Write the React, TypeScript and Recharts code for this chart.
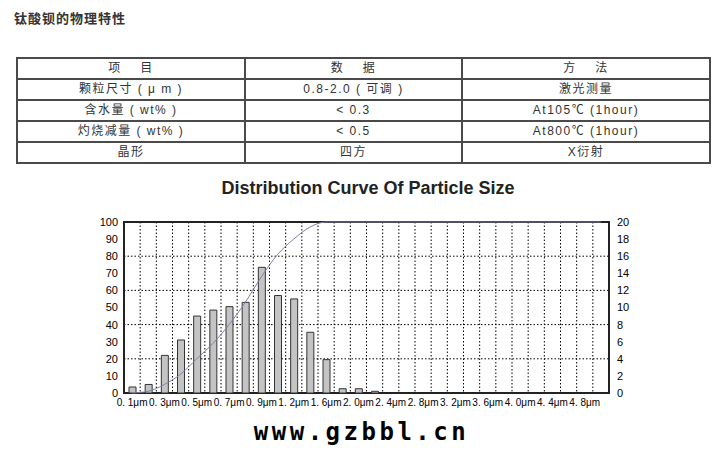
import {
  ComposedChart,
  Bar,
  Line,
  XAxis,
  YAxis,
  CartesianGrid,
  ReferenceArea,
} from 'recharts';

// particle size classes (every other one is labelled on the axis)
const sizeLabels = [
  '0. 1μm', '0. 2μm', '0. 3μm', '0. 4μm', '0. 5μm', '0. 6μm', '0. 7μm', '0. 8μm', '0. 9μm', '1. 0μm',
  '1. 2μm', '1. 4μm', '1. 6μm', '1. 8μm', '2. 0μm', '2. 2μm', '2. 4μm', '2. 6μm', '2. 8μm', '3. 0μm',
  '3. 2μm', '3. 4μm', '3. 6μm', '3. 8μm', '4. 0μm', '4. 2μm', '4. 4μm', '4. 6μm', '4. 8μm', '5. 0μm',
];

// frequency % per class (right axis, 0-20)
const frequency = [
  0.7, 1.0, 4.4, 6.2, 9.0, 9.7, 10.1, 10.6, 14.7, 11.4,
  11.0, 7.1, 3.9, 0.5, 0.5, 0.2, null, null, null, null,
  null, null, null, null, null, null, null, null, null, null,
];

// cumulative % (left axis, 0-100)
const cumulative = [
  0, 1, 5, 11, 20, 29, 40, 53, 68, 81,
  90, 97, 100, 100, 100, 100, 100, 100, 100, 100,
  100, 100, 100, 100, 100, 100, 100, 100, 100, 100,
];

const leftTicks = [0, 10, 20, 30, 40, 50, 60, 70, 80, 90, 100];
const rightTicks = [0, 2, 4, 6, 8, 10, 12, 14, 16, 18, 20];

const tableRows = [
  ['项　 目', '数　 据', '方　 法'],
  ['颗粒尺寸 ( μ m )', '0.8-2.0 ( 可调 )', '激光测量'],
  ['含水量 ( wt% )', '< 0.3', 'At105℃ (1hour)'],
  ['灼烧减量 ( wt% )', '< 0.5', 'At800℃ (1hour)'],
  ['晶形', '四方', 'X衍射'],
];

const chartData = sizeLabels.map((size, i) => ({
  size,
  freq: frequency[i],
  cum: cumulative[i],
}));

const cjk = "'Noto Sans CJK SC', sans-serif";
const tickFont = { fill: '#000', fontSize: 11, fontFamily: "'Liberation Sans', Arial, sans-serif" };

export default function App() {
  return (
    <div style={{ position: 'absolute', left: 0, top: 0, width: 723, height: 455, background: '#fff' }}>
      <div
        style={{
          position: 'absolute',
          left: 14,
          top: 10,
          fontFamily: cjk,
          fontSize: 13,
          fontWeight: 700,
          letterSpacing: 1,
          color: '#333',
          lineHeight: '16px',
        }}
      >
        钛酸钡的物理特性
      </div>

      {/* property table */}
      <table
        style={{
          position: 'absolute',
          left: 16,
          top: 57,
          width: 693,
          borderCollapse: 'collapse',
          tableLayout: 'fixed',
          fontFamily: "'Liberation Sans', 'Noto Sans CJK SC', sans-serif",
          fontSize: 12,
          color: '#333',
          letterSpacing: 1.5,
        }}
      >
        <colgroup>
          <col style={{ width: 228 }} />
          <col style={{ width: 217 }} />
          <col style={{ width: 248 }} />
        </colgroup>
        <tbody>
          {tableRows.map((row, r) => (
            <tr key={r}>
              {row.map((cell, c) => (
                <td
                  key={c}
                  style={{
                    border: '2px solid #4a4a4a',
                    height: 19,
                    padding: 0,
                    textAlign: 'center',
                    lineHeight: '19px',
                    whiteSpace: 'pre',
                  }}
                >
                  {cell}
                </td>
              ))}
            </tr>
          ))}
        </tbody>
      </table>

      <div
        style={{
          position: 'absolute',
          left: 0,
          width: 736,
          top: 177,
          textAlign: 'center',
          fontFamily: "'Liberation Sans', Arial, sans-serif",
          fontWeight: 700,
          fontSize: 18,
          color: '#222',
          lineHeight: '22px',
        }}
      >
        Distribution Curve Of Particle Size
      </div>

      <div style={{ position: 'absolute', left: 0, top: 200 }}>
        <ComposedChart
          width={723}
          height={220}
          data={chartData}
          margin={{ top: 22, right: 74, left: 84, bottom: 7 }}
          barCategoryGap={0}
        >
          <CartesianGrid
            yAxisId="left"
            stroke="#000"
            strokeDasharray="1.5 2"
            verticalCoordinatesGenerator={({ offset }: any) =>
              sizeLabels.slice(1).map((_, i) => offset.left + ((i + 1) * offset.width) / sizeLabels.length)
            }
          />
          <XAxis
            dataKey="size"
            interval={1}
            axisLine={false}
            tickLine={false}
            tickSize={4}
            tickMargin={2}
            height={20}
            tick={{ ...tickFont, fontSize: 10 }}
          />
          <YAxis
            yAxisId="left"
            domain={[0, 100]}
            ticks={leftTicks}
            axisLine={false}
            tickLine={false}
            tickSize={4}
            tickMargin={2}
            width={40}
            tick={tickFont}
          />
          <YAxis
            yAxisId="right"
            orientation="right"
            domain={[0, 20]}
            ticks={rightTicks}
            axisLine={false}
            tickLine={false}
            tickSize={6}
            tickMargin={2}
            width={40}
            tick={tickFont}
          />
          <ReferenceArea yAxisId="left" y1={0} y2={100} fill="none" stroke="#222" strokeWidth={2} />
          <Bar
            yAxisId="right"
            dataKey="freq"
            barSize={7}
            fill="#c4c4c4"
            stroke="#333"
            strokeWidth={1}
            isAnimationActive={false}
          />
          <Line
            yAxisId="left"
            type="monotone"
            dataKey="cum"
            stroke="#8080aa"
            strokeWidth={1}
            dot={false}
            activeDot={false}
            isAnimationActive={false}
          />
        </ComposedChart>
      </div>

      <div
        style={{
          position: 'absolute',
          left: 0,
          width: 723,
          top: 418,
          textAlign: 'center',
          fontFamily: "'DejaVu Sans Mono', monospace",
          fontWeight: 700,
          fontSize: 24,
          letterSpacing: 3.5,
          color: '#000',
          lineHeight: '28px',
        }}
      >
        www.gzbbl.cn
      </div>
    </div>
  );
}
